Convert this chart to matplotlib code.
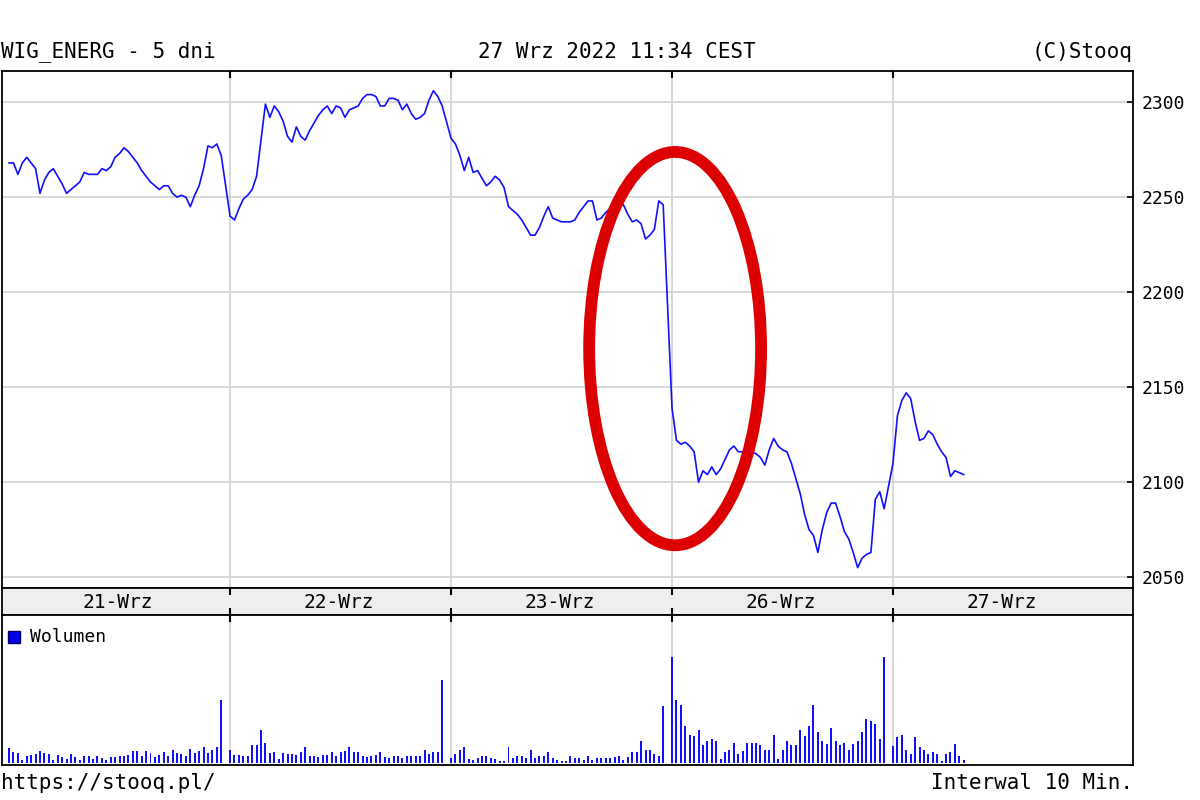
import matplotlib.pyplot as plt
from matplotlib.patches import Ellipse

# 10-minute closes of WIG_ENERG, one list per session (09:00 .. 17:00)
days = ["21-Wrz", "22-Wrz", "23-Wrz", "26-Wrz", "27-Wrz"]

price_21 = [2268, 2268, 2262, 2268, 2271, 2268, 2265, 2252, 2259, 2263,
            2265, 2261, 2257, 2252, 2254, 2256, 2258, 2263, 2262, 2262,
            2262, 2265, 2264, 2266, 2271, 2273, 2276, 2274, 2271, 2268,
            2264, 2261, 2258, 2256, 2254, 2256, 2256, 2252, 2250, 2251,
            2250, 2245, 2251, 2256, 2265, 2277, 2276, 2278, 2272]
price_22 = [2240, 2238, 2244, 2249, 2251, 2254, 2261, 2280, 2299, 2292,
            2298, 2295, 2290, 2282, 2279, 2287, 2282, 2280, 2285, 2289,
            2293, 2296, 2298, 2294, 2298, 2297, 2292, 2296, 2297, 2298,
            2302, 2304, 2304, 2303, 2298, 2298, 2302, 2302, 2301, 2296,
            2299, 2294, 2291, 2292, 2294, 2301, 2306, 2303, 2298]
price_23 = [2281, 2278, 2272, 2264, 2271, 2263, 2264, 2260, 2256, 2258,
            2261, 2259, 2255, 2245, 2243, 2241, 2238, 2234, 2230, 2230,
            2234, 2240, 2245, 2239, 2238, 2237, 2237, 2237, 2238, 2242,
            2245, 2248, 2248, 2238, 2239, 2242, 2244, 2246, 2246, 2246,
            2241, 2237, 2238, 2236, 2228, 2230, 2233, 2248, 2246]
price_26 = [2139, 2122, 2120, 2121, 2119, 2116, 2100, 2106, 2104, 2108,
            2104, 2107, 2112, 2117, 2119, 2116, 2116, 2117, 2116, 2115,
            2113, 2109, 2117, 2123, 2119, 2117, 2116, 2110, 2102, 2094,
            2083, 2075, 2072, 2063, 2075, 2084, 2089, 2089, 2082, 2074,
            2070, 2063, 2055, 2060, 2062, 2063, 2091, 2095, 2086]
price_27 = [2110, 2135, 2143, 2147, 2144, 2132, 2122, 2123, 2127, 2125,
            2120, 2116, 2113, 2103, 2106, 2105, 2104]

# volume per 10-minute bar (relative units)
vol_21 = [15, 11, 10, 3, 7, 8, 9, 12, 10, 9, 3, 8, 6, 4, 9, 6, 3, 7, 7, 4,
          7, 5, 3, 6, 6, 7, 7, 8, 12, 12, 7, 12, 10, 6, 8, 11, 7, 13, 10, 9,
          7, 14, 10, 12, 16, 10, 13, 16, 63]
vol_22 = [13, 8, 8, 7, 7, 18, 18, 33, 20, 10, 11, 4, 10, 9, 9, 8, 11, 16, 7, 7,
          6, 8, 8, 11, 7, 11, 12, 16, 11, 11, 7, 6, 7, 8, 11, 6, 5, 7, 7, 5,
          7, 7, 7, 7, 13, 9, 11, 11, 83]
vol_23 = [5, 9, 13, 16, 4, 3, 5, 7, 7, 5, 4, 2, 2, 16, 5, 7, 7, 5, 13, 5,
          7, 7, 11, 5, 3, 2, 2, 7, 5, 5, 3, 7, 3, 5, 5, 5, 5, 6, 7, 3,
          6, 11, 11, 22, 13, 13, 9, 7, 57]
vol_26 = [106, 63, 58, 37, 28, 27, 33, 18, 22, 24, 22, 4, 11, 13, 20, 9, 12, 20, 20, 20,
          18, 13, 13, 28, 4, 13, 22, 18, 18, 33, 27, 37, 58, 31, 22, 19, 35, 22, 18, 20,
          13, 19, 22, 31, 44, 42, 39, 24, 106]
vol_27 = [17, 26, 28, 13, 9, 26, 16, 13, 9, 11, 9, 2, 9, 11, 19, 7, 3]

price_ticks = [2050, 2100, 2150, 2200, 2250, 2300]

SLOTS = 50  # axis units per session
price_days = [price_21, price_22, price_23, price_26, price_27]
vol_days = [vol_21, vol_22, vol_23, vol_26, vol_27]

xs, closes, vols = [], [], []
for d in range(len(days)):
    for s in range(len(price_days[d])):
        xs.append(d * SLOTS + s)
        closes.append(price_days[d][s])
        vols.append(vol_days[d][s])

mono = "DejaVu Sans Mono"
blue = "#1010ff"
grid_c = "#d4d4d4"
xmin, xmax = -1.6, 254.3
bounds = [d * SLOTS - 0.05 for d in range(1, len(days))]

fig = plt.figure(figsize=(12, 8), dpi=100)
ax = fig.add_axes([2 / 1200, 1 - 588 / 800, 1131 / 1200, 517 / 800])
axb = fig.add_axes([2 / 1200, 1 - 615 / 800, 1131 / 1200, 27 / 800])
axv = fig.add_axes([2 / 1200, 1 - 765 / 800, 1131 / 1200, 150 / 800])

# price panel
ax.plot(xs, closes, color=blue, lw=1.2, zorder=3)
ax.set_xlim(xmin, xmax)
ax.set_ylim(2044.3, 2316.4)
for v in price_ticks:
    ax.axhline(v, color=grid_c, lw=1.3, zorder=1)
for b in bounds:
    ax.axvline(b, color=grid_c, lw=1.3, zorder=1)
ax.yaxis.tick_right()
ax.set_yticks(price_ticks)
ax.set_yticklabels([str(v) for v in price_ticks], fontfamily=mono, fontsize=13)
ax.tick_params(axis="y", direction="in", length=4, width=1.2, pad=6)
ax.set_xticks(bounds)
ax.xaxis.tick_top()
ax.tick_params(axis="x", direction="in", length=5, width=1.5, labeltop=False)

# highlight of the opening drop on 26-Wrz
ax.add_patch(Ellipse((3 * SLOTS + 0.7, 2170.3), 38.9, 207, fill=False,
                     edgecolor="#dd0000", lw=8.5, zorder=4, clip_on=False))

# day band
axb.set_facecolor("#eeeeee")
axb.set_xlim(xmin, xmax)
axb.set_ylim(0, 1)
axb.set_yticks([])
axb.set_xticks(bounds)
axb.tick_params(axis="x", direction="in", length=5, width=1.5, labelbottom=False,
                top=True)
for d, name in enumerate(days):
    axb.text(d * SLOTS + 24.5, 0.45, name, ha="center", va="center",
             fontfamily=mono, fontsize=14)

# volume panel
axv.bar(xs, vols, width=0.45, color=blue, zorder=3)
axv.set_xlim(xmin, xmax)
axv.set_ylim(-2, 148)
for b in bounds:
    axv.axvline(b, color=grid_c, lw=1.3, zorder=1)
axv.set_yticks([])
axv.set_xticks(bounds)
axv.tick_params(axis="x", direction="in", length=5, width=1.5, labelbottom=False,
                bottom=False, top=True)
axv.plot([1.2], [126], marker="s", ms=8, color="#0000ee", mec="#000066",
         clip_on=False)
axv.text(4.8, 126, "Wolumen", ha="left", va="center", fontfamily=mono, fontsize=13)

for a in (ax, axb, axv):
    for sp in a.spines.values():
        sp.set_linewidth(1.3)

fig.text(1 / 1200, 1 - 52 / 800, "WIG_ENERG - 5 dni", ha="left", va="center",
         fontfamily=mono, fontsize=15)
fig.text(617 / 1200, 1 - 52 / 800, "27 Wrz 2022 11:34 CEST", ha="center",
         va="center", fontfamily=mono, fontsize=15)
fig.text(1133 / 1200, 1 - 52 / 800, "(C)Stooq", ha="right", va="center",
         fontfamily=mono, fontsize=15)
fig.text(1 / 1200, 1 - 783 / 800, "https://stooq.pl/", ha="left", va="center",
         fontfamily=mono, fontsize=15)
fig.text(1133 / 1200, 1 - 783 / 800, "Interwal 10 Min.", ha="right", va="center",
         fontfamily=mono, fontsize=15)

fig.savefig("out.png", dpi=100)
